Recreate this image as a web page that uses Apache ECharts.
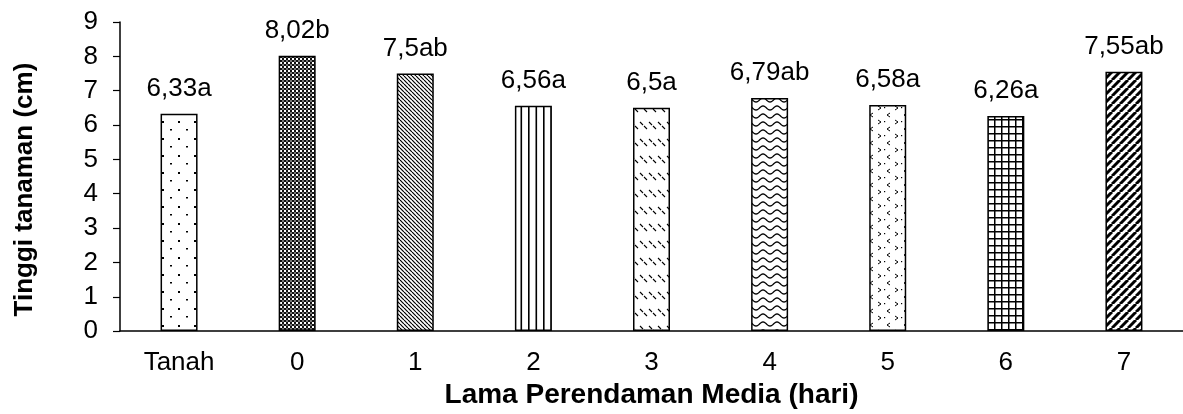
<!DOCTYPE html>
<html>
<head>
<meta charset="utf-8">
<script src="https://cdn.jsdelivr.net/npm/echarts@6/dist/echarts.min.js"></script>
<style>
html,body{margin:0;padding:0;background:#fff;}
#c{width:1183px;height:414px;}
</style>
</head>
<body>
<div id="c"></div>
<script>
// ---- data ----
const categories = ['Tanah', '0', '1', '2', '3', '4', '5', '6', '7'];
const heights = [6.33, 8.02, 7.5, 6.56, 6.5, 6.79, 6.58, 6.26, 7.55];
const notations = ['a', 'b', 'ab', 'a', 'a', 'ab', 'a', 'a', 'ab'];
const yTicks = [0, 1, 2, 3, 4, 5, 6, 7, 8, 9];
const xTitle = 'Lama Perendaman Media (hari)';
const yTitle = 'Tinggi tanaman (cm)';

// ---- fill patterns ----
function tile(w, h, draw) {
  const c = document.createElement('canvas');
  c.width = w; c.height = h;
  const g = c.getContext('2d');
  g.fillStyle = '#fff'; g.fillRect(0, 0, w, h);
  g.fillStyle = '#000'; g.strokeStyle = '#000';
  draw(g, w, h);
  return { image: c, repeat: 'repeat' };
}
function diag(g, s, dir, lw) {
  g.lineWidth = lw;
  for (let k = -1; k <= 1; k++) {
    g.beginPath();
    if (dir > 0) { g.moveTo(k * s, 0); g.lineTo(k * s + s, s); }
    else { g.moveTo(k * s, s); g.lineTo(k * s + s, 0); }
    g.stroke();
  }
}
const patterns = [
  tile(16, 17, (g) => { g.fillRect(2, 2, 2, 2); g.fillRect(10, 10, 2, 1.5); }),
  tile(4, 4, (g) => { g.fillStyle = '#111'; g.fillRect(0, 0, 2, 2); g.fillRect(2, 2, 2, 2); g.fillStyle = '#777'; g.fillRect(2, 0, 2, 2); }),
  tile(4, 4, (g, w) => diag(g, w, 1, 1.2)),
  tile(15, 9, (g) => { g.fillRect(3, 0, 1.6, 9); g.fillRect(10.5, 0, 1.6, 9); }),
  tile(9, 17, (g) => { g.lineWidth = 1.1; g.beginPath(); g.moveTo(1, 3); g.lineTo(4, 6); g.stroke(); g.beginPath(); g.moveTo(5, 7); g.lineTo(8, 10); g.stroke(); }),
  tile(14, 8, (g, w) => { g.lineWidth = 1.3; g.beginPath(); for (let x = 0; x <= w; x++) { const y = 4 + 2 * Math.cos(2 * Math.PI * x / w); x === 0 ? g.moveTo(x, y) : g.lineTo(x, y); } g.stroke(); }),
  tile(17, 14, (g) => { g.lineWidth = 1; g.beginPath(); g.moveTo(6, 1); g.lineTo(3, 3); g.lineTo(6, 5); g.stroke(); g.beginPath(); g.moveTo(11, 8); g.lineTo(14, 10); g.lineTo(11, 12); g.stroke(); g.fillRect(0, 9, 1.2, 1.2); }),
  tile(7, 7, (g) => { g.fillRect(0, 0, 7, 1.5); g.fillRect(0, 0, 1.5, 7); }),
  tile(8, 8, (g, w) => diag(g, w, -1, 3))
];

const barData = heights.map((v, i) => ({
  value: v,
  itemStyle: { color: patterns[i] },
  label: { formatter: String(v).replace('.', ',') + notations[i] }
}));

const font = 'Liberation Sans, Arial, sans-serif';
const chart = echarts.init(document.getElementById('c'), null, { renderer: 'canvas' });
chart.setOption({
  animation: false,
  backgroundColor: '#fff',
  grid: { left: 120, right: 0, top: 22, bottom: 82, containLabel: false },
  xAxis: {
    type: 'category',
    data: categories,
    axisLine: { lineStyle: { color: '#000', width: 1.5 } },
    axisTick: { show: false },
    axisLabel: { color: '#000', fontSize: 26, fontFamily: font, margin: 19 },
    name: xTitle,
    nameLocation: 'middle',
    nameGap: 49,
    nameTextStyle: { color: '#000', fontSize: 28, fontWeight: 'bold', fontFamily: font }
  },
  yAxis: {
    type: 'value',
    min: 0, max: 9, interval: 1,
    axisLine: { show: true, lineStyle: { color: '#000', width: 1.5 } },
    axisTick: { show: true, inside: false, length: 7, lineStyle: { color: '#000', width: 1.2 } },
    splitLine: { show: false },
    axisLabel: { color: '#000', fontSize: 26, fontFamily: font, margin: 22,
      formatter: (v) => yTicks.includes(v) ? String(v) : '' },
    name: yTitle,
    nameLocation: 'middle',
    nameGap: 82,
    nameRotate: 90,
    nameTextStyle: { color: '#000', fontSize: 26, fontWeight: 'bold', fontFamily: font, padding: [0, 26, 0, 0] }
  },
  series: [{
    type: 'bar',
    data: barData,
    barWidth: 37,
    itemStyle: { borderColor: '#000', borderWidth: 1.5 },
    label: { show: true, position: 'top', distance: 12, color: '#000', fontSize: 26, fontFamily: font }
  }]
});
</script>
</body>
</html>
